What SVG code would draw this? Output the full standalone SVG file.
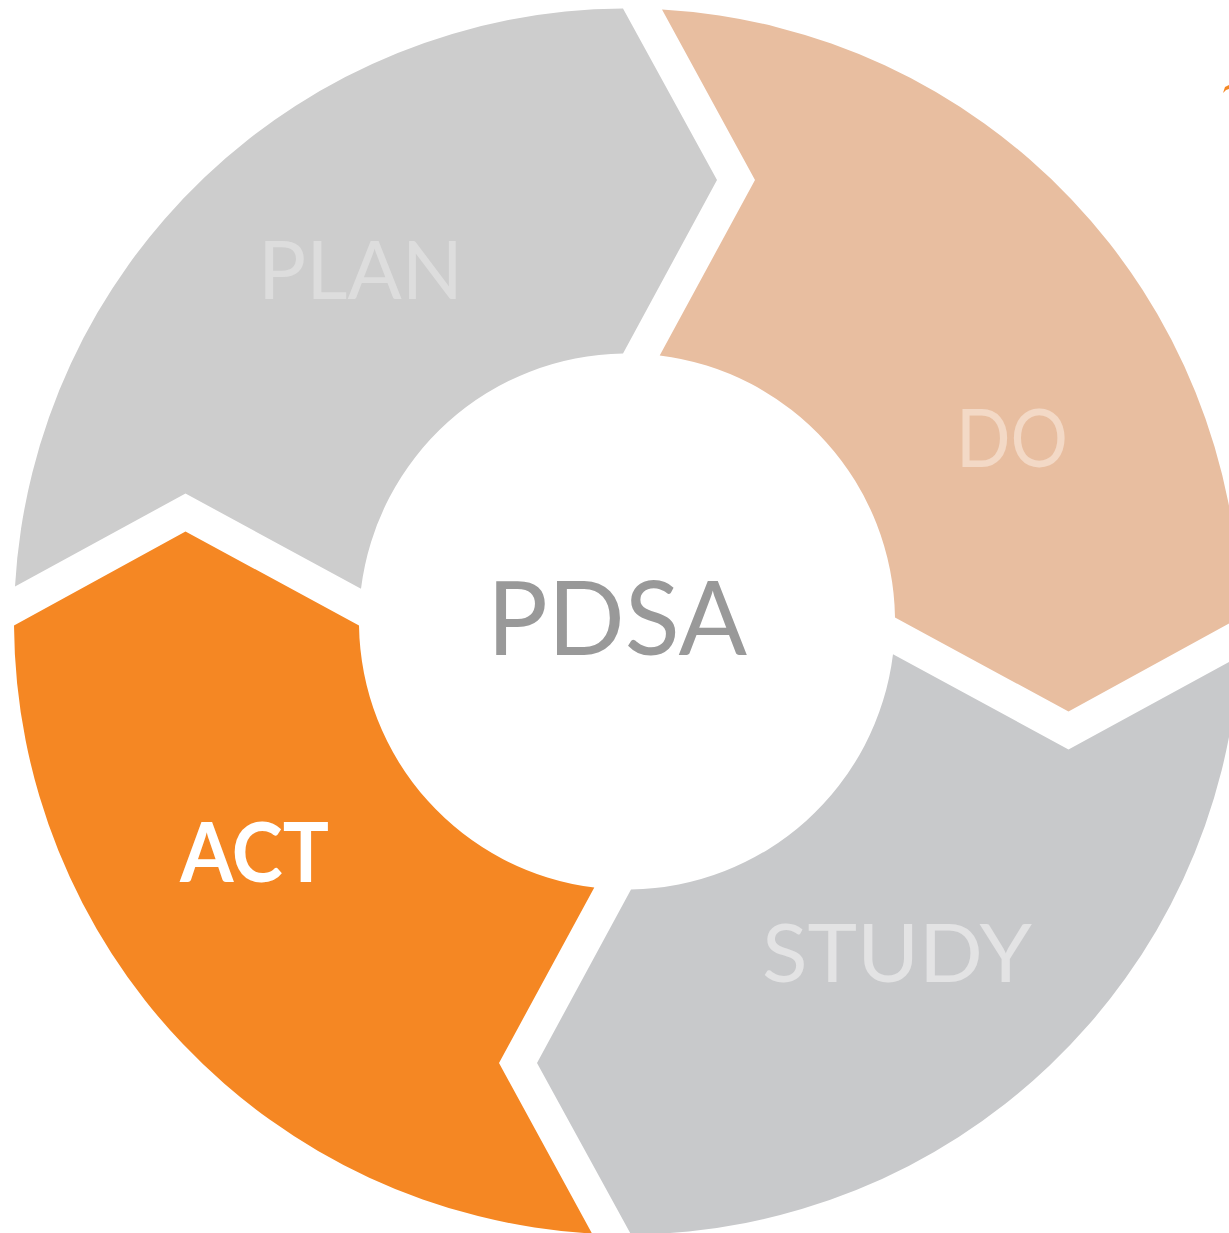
<svg xmlns="http://www.w3.org/2000/svg" width="1229" height="1233" viewBox="0 0 1229 1233">
  <style>
    .lbl { font-family: Lato, "Open Sans", "Liberation Sans", sans-serif; font-weight: 400; }
    .bold { font-weight: 700; }
  </style>
  <defs>
    <path id="segShape" d="M -612,-35 A 613 613 0 0 1 -4,-613 L 90,-441.5 L -4,-268 A 268 268 0 0 0 -266,-32.7 L -441.5,-128 Z"/>
  </defs>
  <rect width="1229" height="1233" fill="#ffffff"/>
  <g id="ring" transform="translate(627,621.5)">
    <g id="plan-shape"><use href="#segShape" fill="#CDCDCD"/></g>
    <g id="do-shape"><use href="#segShape" fill="#E8BEA0" transform="rotate(90)"/></g>
    <g id="study-shape"><use href="#segShape" fill="#C8C9CB" transform="rotate(180)"/></g>
    <g id="act-shape"><use href="#segShape" fill="#F58723" transform="rotate(270)"/></g>
  </g>
  <g id="connectors"></g>
  <g id="plan">
    <text class="lbl" x="258" y="299" font-size="82" fill="#DDDDDD" textLength="205" lengthAdjust="spacingAndGlyphs">PLAN</text>
  </g>
  <g id="do">
    <text class="lbl" x="956" y="467" font-size="82" fill="#F3D9C6" textLength="112" lengthAdjust="spacingAndGlyphs">DO</text>
  </g>
  <g id="study">
    <text class="lbl" x="762" y="982" font-size="82" fill="#E3E3E4" textLength="270" lengthAdjust="spacingAndGlyphs">STUDY</text>
  </g>
  <g id="act">
    <text class="lbl bold" x="180" y="882" font-size="82" fill="#FFFFFF" textLength="149" lengthAdjust="spacingAndGlyphs">ACT</text>
  </g>
  <g id="pdsa">
    <text class="lbl" x="487" y="655" font-size="102" fill="#999999" textLength="260" lengthAdjust="spacingAndGlyphs">PDSA</text>
  </g>
  <polygon points="1223,93 1225,87 1229,85 1229,89 1226,90" fill="#F58723"/>
</svg>
